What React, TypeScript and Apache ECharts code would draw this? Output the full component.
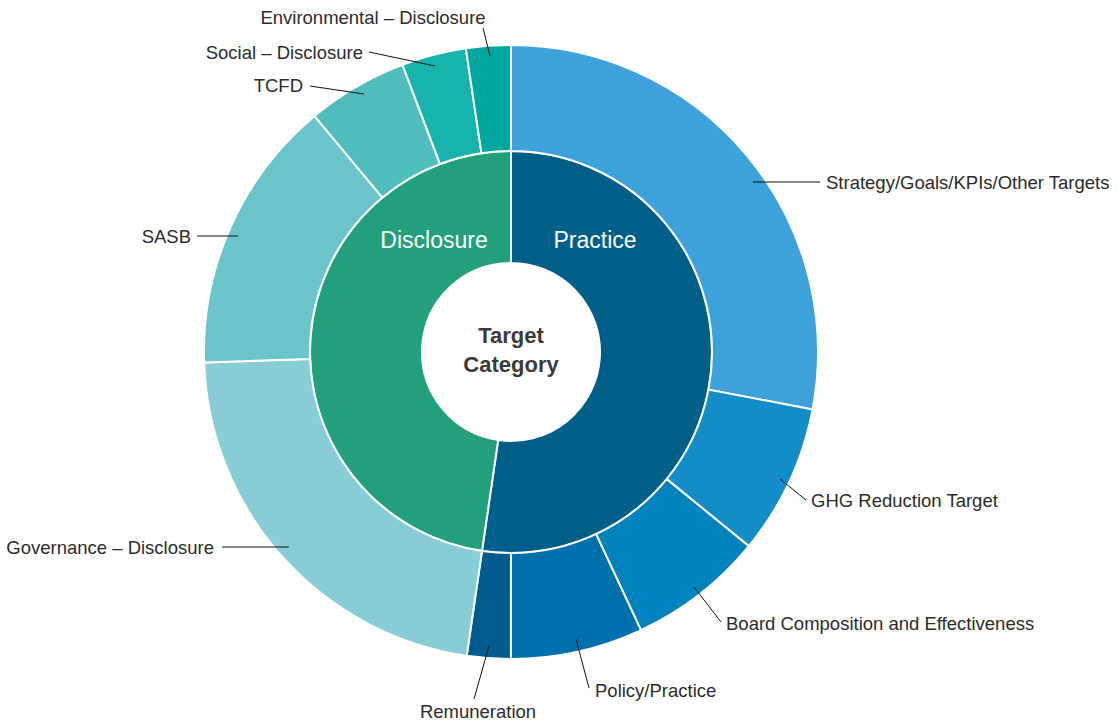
import React, { useEffect, useRef } from "react";
import * as echarts from "echarts";

// ---- data ----
const innerCategories = ["Practice", "Disclosure"];
const practiceNames = [
  "Strategy/Goals/KPIs/Other Targets",
  "GHG Reduction Target",
  "Board Composition and Effectiveness",
  "Policy/Practice",
  "Remuneration",
];
const practiceValues = [28.0, 7.9, 7.15, 6.96, 2.3];
const disclosureNames = [
  "Governance – Disclosure",
  "SASB",
  "TCFD",
  "Social – Disclosure",
  "Environmental – Disclosure",
];
const disclosureValues = [22.15, 14.5, 5.3, 3.4, 2.35];
const centerTitle = ["Target", "Category"];

// ---- styles ----
const innerColors = ["#005F88", "#22A07D"];
const practiceColors = ["#3DA1DB", "#128DC8", "#0083BD", "#0070AC", "#005B8F"];
const disclosureColors = ["#88CDD6", "#6BC4C9", "#50BDBD", "#17B3AD", "#00A79E"];

// ---- annotation layout (label anchors & leader lines) ----
const outerLabelPos: { x: number; y: number; align: string }[] = [
  { x: 826, y: 182, align: "left" },
  { x: 811, y: 500, align: "left" },
  { x: 726, y: 623, align: "left" },
  { x: 595, y: 690, align: "left" },
  { x: 478, y: 711, align: "center" },
  { x: 214, y: 547, align: "right" },
  { x: 191, y: 236, align: "right" },
  { x: 303, y: 85, align: "right" },
  { x: 363, y: 52, align: "right" },
  { x: 373, y: 17, align: "center" },
];
const leaderLines: number[][] = [
  [753, 182, 820, 182],
  [780, 479, 806, 500],
  [694, 587, 721, 622],
  [576, 639, 589, 688],
  [489, 646, 474, 699],
  [222, 547, 289, 547],
  [197, 236, 238, 236],
  [310, 86, 364, 94],
  [369, 52, 435, 66],
  [483, 28, 490, 56],
];
const innerLabelPos = [
  { x: 595, y: 240 },
  { x: 434, y: 240 },
];

const FONT = "'Liberation Sans', Arial, Helvetica, sans-serif";

export default function App() {
  const ref = useRef<HTMLDivElement>(null);

  useEffect(() => {
    if (!ref.current) return;
    const chart = echarts.init(ref.current, undefined, { renderer: "svg" });

    const sum = (a: number[]) => a.reduce((s, v) => s + v, 0);
    const innerValues = [sum(practiceValues), sum(disclosureValues)];

    const innerData = innerCategories.map((n, i) => ({
      name: n,
      value: innerValues[i],
      itemStyle: { color: innerColors[i] },
    }));
    const outerNames = [...practiceNames, ...disclosureNames];
    const outerValues = [...practiceValues, ...disclosureValues];
    const outerColors = [...practiceColors, ...disclosureColors];
    const outerData = outerNames.map((n, i) => ({
      name: n,
      value: outerValues[i],
      itemStyle: { color: outerColors[i] },
    }));

    const graphics: any[] = leaderLines.map((l) => ({
      type: "line",
      shape: { x1: l[0], y1: l[1], x2: l[2], y2: l[3] },
      style: { stroke: "#111", lineWidth: 1 },
      z: 100,
    }));
    graphics.push({
      type: "text",
      x: 511,
      y: 350,
      z: 100,
      style: {
        text: centerTitle.join("\n"),
        align: "center",
        verticalAlign: "middle",
        font: `bold 22px ${FONT}`,
        lineHeight: 29,
        fill: "#3a3a3a",
      },
    });

    chart.setOption({
      animation: false,
      backgroundColor: "#ffffff",
      graphic: graphics,
      series: [
        {
          type: "pie",
          center: [511, 352],
          radius: [89, 201],
          startAngle: 90,
          clockwise: true,
          avoidLabelOverlap: false,
          itemStyle: { borderColor: "#ffffff", borderWidth: 2 },
          label: {
            show: true,
            position: "inside",
            formatter: "{b}",
            color: "#ffffff",
            fontSize: 23,
            fontFamily: FONT,
          },
          labelLine: { show: false },
          labelLayout: (p: any) => ({
            x: innerLabelPos[p.dataIndex].x,
            y: innerLabelPos[p.dataIndex].y,
            align: "center",
            verticalAlign: "middle",
          }),
          emphasis: { disabled: true },
          data: innerData,
        },
        {
          type: "pie",
          center: [511, 352],
          radius: [201, 307],
          startAngle: 90,
          clockwise: true,
          avoidLabelOverlap: false,
          itemStyle: { borderColor: "#ffffff", borderWidth: 2 },
          label: {
            show: true,
            position: "outside",
            formatter: "{b}",
            color: "#2b2b2b",
            fontSize: 18.5,
            fontFamily: FONT,
          },
          labelLine: { show: false },
          labelLayout: (p: any) => ({
            x: outerLabelPos[p.dataIndex].x,
            y: outerLabelPos[p.dataIndex].y,
            align: outerLabelPos[p.dataIndex].align,
            verticalAlign: "middle",
          }),
          emphasis: { disabled: true },
          data: outerData,
        },
      ],
    });

    return () => chart.dispose();
  }, []);

  return (
    <div
      ref={ref}
      style={{ position: "absolute", left: 0, top: 0, width: 1120, height: 721 }}
    />
  );
}
